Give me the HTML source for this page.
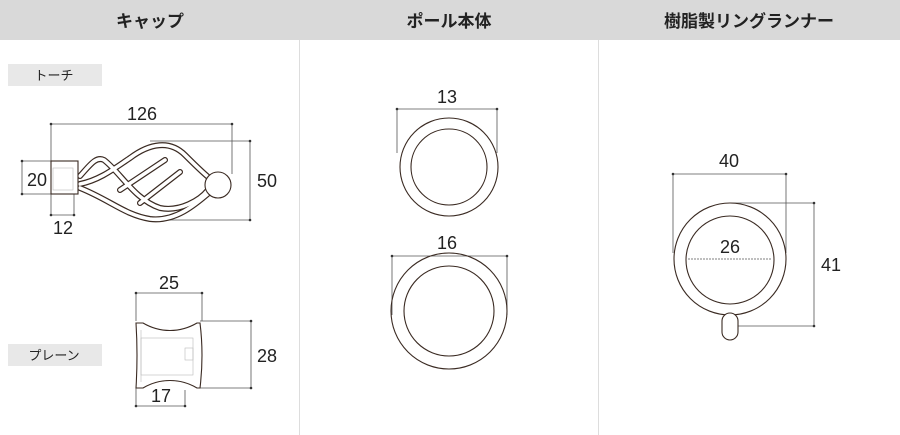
<!DOCTYPE html>
<html><head><meta charset="utf-8"><style>
body{margin:0;background:#fff;}
svg{display:block;font-family:"Liberation Sans","Noto Sans CJK JP",sans-serif;}
</style></head><body>
<svg width="900" height="435" viewBox="0 0 900 435" xmlns="http://www.w3.org/2000/svg">
<rect x="0" y="0" width="900" height="40" fill="#d9d9d9"/>
<text x="150" y="27" font-size="17" font-weight="bold" text-anchor="middle" fill="#222">キャップ</text>
<text x="449" y="27" font-size="17" font-weight="bold" text-anchor="middle" fill="#222">ポール本体</text>
<text x="749" y="27" font-size="17" font-weight="bold" text-anchor="middle" fill="#222">樹脂製リングランナー</text>
<line x1="299.5" y1="40" x2="299.5" y2="435" stroke="#ddd"/>
<line x1="598.5" y1="40" x2="598.5" y2="435" stroke="#ddd"/>

<rect x="8" y="64" width="94" height="22" fill="#e8e8e8"/>
<text x="54" y="80" font-size="13" text-anchor="middle" fill="#222">トーチ</text>
<rect x="8" y="344" width="94" height="22" fill="#e8e8e8"/>
<text x="54" y="360" font-size="13" text-anchor="middle" fill="#222">プレーン</text>

<g stroke="#555" stroke-width="0.8" fill="none">
<polyline points="51,161 51,124 232,124 232,174"/>
<polyline points="150,141 250,141 250,220 150,220"/>
<polyline points="51,161 22,161 22,194 51,194"/>
<polyline points="51,194 51,215 74,215 74,194"/>
<polyline points="136,321 136,293 202,293 202,321"/>
<polyline points="200,321 251,321 251,388 200,388"/>
<polyline points="136,388 136,406 185,406 185,390"/>
<polyline points="397,153 397,109 497,109 497,153"/>
<polyline points="392,315 392,256 507,256 507,315"/>
<polyline points="673,253 673,174 786,174 786,253"/>
<polyline points="730,203 814,203 814,326 738,326"/>
<line x1="688" y1="259" x2="772" y2="259" stroke-dasharray="2,1"/>
</g>
<g fill="#333">
<circle cx="51" cy="124" r="1.3"/><circle cx="232" cy="124" r="1.3"/>
<circle cx="250" cy="141" r="1.3"/><circle cx="250" cy="220" r="1.3"/>
<circle cx="22" cy="161" r="1.3"/><circle cx="22" cy="194" r="1.3"/>
<circle cx="51" cy="215" r="1.3"/><circle cx="74" cy="215" r="1.3"/>
<circle cx="136" cy="293" r="1.3"/><circle cx="202" cy="293" r="1.3"/>
<circle cx="251" cy="321" r="1.3"/><circle cx="251" cy="388" r="1.3"/>
<circle cx="136" cy="406" r="1.3"/><circle cx="185" cy="406" r="1.3"/>
<circle cx="397" cy="109" r="1.3"/><circle cx="497" cy="109" r="1.3"/>
<circle cx="392" cy="256" r="1.3"/><circle cx="507" cy="256" r="1.3"/>
<circle cx="673" cy="174" r="1.3"/><circle cx="786" cy="174" r="1.3"/>
<circle cx="814" cy="203" r="1.3"/><circle cx="814" cy="326" r="1.3"/>
</g>

<!-- torch shape: double-line bands -->
<g fill="none" stroke-linecap="round">
<g stroke="#3a2a22" stroke-width="6">
<path d="M80,184 C100,180 115,168 130,158 C150,143 170,140 185,155 C195,165 205,175 212,180"/>
<path d="M80,188 C110,200 125,215 150,219 C175,222 195,205 210,192"/>
<path d="M80,176 C90,165 96,156 104,160 C120,172 135,200 160,208 C180,212 200,200 208,190"/>
<path d="M120,190 L165,160 M140,203 L180,172"/>
</g>
<g stroke="#fff" stroke-width="3.6">
<path d="M80,184 C100,180 115,168 130,158 C150,143 170,140 185,155 C195,165 205,175 212,180"/>
<path d="M80,188 C110,200 125,215 150,219 C175,222 195,205 210,192"/>
<path d="M80,176 C90,165 96,156 104,160 C120,172 135,200 160,208 C180,212 200,200 208,190"/>
<path d="M120,190 L165,160 M140,203 L180,172"/>
</g>
</g>
<g stroke="#3a2a22" stroke-width="1.1" fill="#fff">
<rect x="51" y="161" width="27" height="33"/>
<circle cx="218" cy="185" r="13"/>
</g>
<rect x="53" y="168" width="20" height="22" stroke="#bbb" stroke-width="0.6" fill="none"/>

<!-- plain shape -->
<g stroke="#3a2a22" stroke-width="1.1" fill="#fff">
<path d="M136,323 L143,323 C160,333 180,333 197,323 L200,323 Q204,355 200,388 L197,388 C180,378 160,378 143,388 L136,388 Q138,355 136,323 Z"/>
</g>
<g stroke="#bbb" stroke-width="0.6" fill="none">
<rect x="141" y="338" width="52" height="37"/>
<rect x="185" y="348" width="8" height="12"/>
<line x1="141" y1="330" x2="141" y2="382"/>
</g>

<g stroke="#3a2a22" stroke-width="1.1" fill="none">
<circle cx="449" cy="167" r="49"/><circle cx="449" cy="167" r="38"/>
<circle cx="449" cy="311" r="58"/><circle cx="449" cy="311" r="45"/>
<circle cx="730" cy="259" r="56"/><circle cx="730" cy="260" r="44"/>
</g>
<rect x="722" y="313" width="16" height="27" rx="8" fill="#fff" stroke="#3a2a22" stroke-width="1.1"/>

<g font-size="18" fill="#222" text-anchor="middle">
<text x="142" y="120">126</text>
<text x="267" y="187">50</text>
<text x="37" y="186">20</text>
<text x="63" y="234">12</text>
<text x="169" y="289">25</text>
<text x="267" y="362">28</text>
<text x="161" y="402">17</text>
<text x="447" y="103">13</text>
<text x="447" y="249">16</text>
<text x="729" y="167">40</text>
<text x="730" y="253">26</text>
<text x="831" y="271">41</text>
</g>
</svg>
</body></html>
